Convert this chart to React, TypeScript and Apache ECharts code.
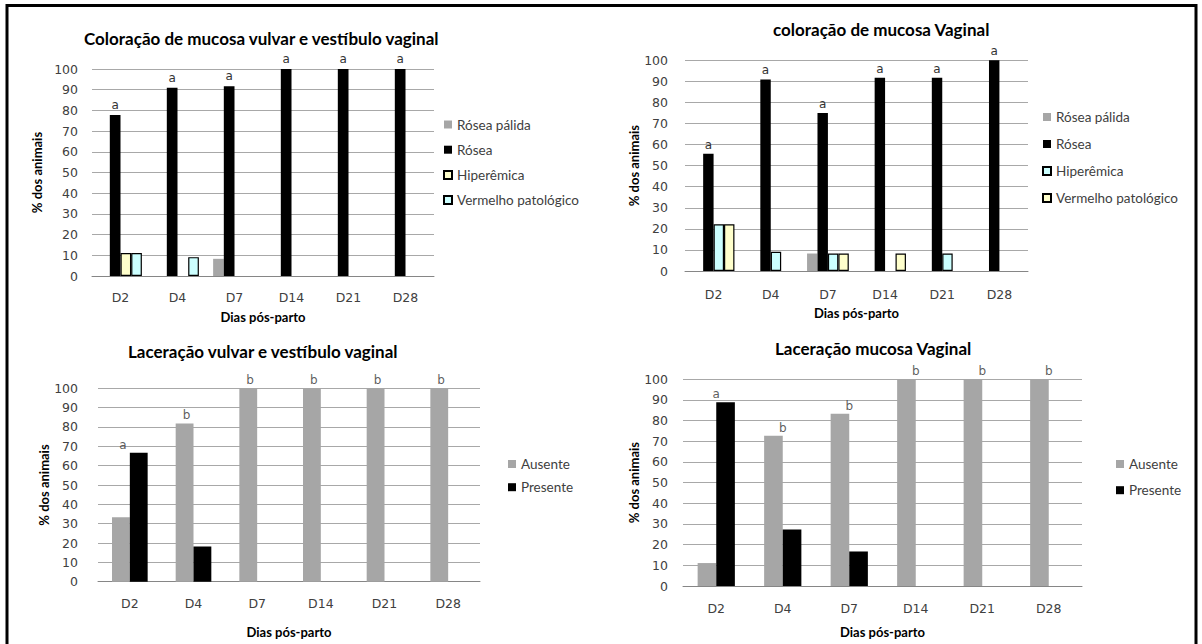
import React, { useEffect, useRef } from 'react';
import * as echarts from 'echarts';

// ---------- data ----------
const categories = ['D2', 'D4', 'D7', 'D14', 'D21', 'D28'];
const yTicksMax = 100;
const yTicksStep = 10;

// Panel 1 — Coloração de mucosa vulvar e vestíbulo vaginal
const vulvarRoseaPalida = [0, 0, 8.3, 0, 0, 0];
const vulvarRosea = [77.8, 90.9, 91.7, 100, 100, 100];
const vulvarHiperemica = [11.1, 0, 0, 0, 0, 0];
const vulvarVermelho = [11.1, 9.1, 0, 0, 0, 0];
const vulvarLetters = ['a', 'a', 'a', 'a', 'a', 'a'];

// Panel 2 — coloração de mucosa Vaginal
const vaginalRoseaPalida = [0, 0, 8.3, 0, 0, 0];
const vaginalRosea = [55.6, 90.9, 75, 91.7, 91.7, 100];
const vaginalHiperemica = [22.2, 9.1, 8.3, 0, 8.3, 0];
const vaginalVermelho = [22.2, 0, 8.3, 8.3, 0, 0];
const vaginalLetters = ['a', 'a', 'a', 'a', 'a', 'a'];

// Panel 3 — Laceração vulvar e vestíbulo vaginal
const lacVulvarAusente = [33.3, 81.8, 100, 100, 100, 100];
const lacVulvarPresente = [66.7, 18.2, 0, 0, 0, 0];
const lacVulvarLetters = ['a', 'b', 'b', 'b', 'b', 'b'];

// Panel 4 — Laceração mucosa Vaginal
const lacVaginalAusente = [11.1, 72.7, 83.3, 100, 100, 100];
const lacVaginalPresente = [88.9, 27.3, 16.7, 0, 0, 0];
const lacVaginalLetters = ['a', 'b', 'b', 'b', 'b', 'b'];

const titles = [
  'Coloração de mucosa vulvar e vestíbulo vaginal',
  'coloração de mucosa Vaginal',
  'Laceração vulvar e vestíbulo vaginal',
  'Laceração mucosa Vaginal',
];
const xName = 'Dias pós-parto';
const yName = '% dos animais';

// ---------- styles ----------
const GRAY = '#a6a6a6';
const BLACK = '#000000';
const YELLOW = '#ffffcc';
const CYAN = '#ccffff';
const TXT = '#404040';
const SEP = '::';

const nz = (arr: number[]) => arr.map((v) => (v === 0 ? null : v));

export default function App() {
  const ref = useRef<HTMLDivElement>(null);

  useEffect(() => {
    const chart = echarts.init(ref.current!, null, { renderer: 'svg' });

    const grids = [
      { left: 92, top: 69, width: 342, height: 207 },
      { left: 685, top: 60.3, width: 343, height: 210.7 },
      { left: 98, top: 388.3, width: 382, height: 193.4 },
      { left: 683, top: 379.3, width: 399, height: 206.7 },
    ];
    const xLabelMargin = [15, 17, 15, 16];
    const xNameGap = [34, 35, 44, 39];
    const yLabelMargin = [14, 17, 20, 15];
    const yNameGap = [49, 44, 47, 42];

    const xAxis = grids.map((_, i) => ({
      type: 'category',
      gridIndex: i,
      data: categories,
      axisLine: { show: true, lineStyle: { color: '#868686', width: 1 } },
      axisTick: { show: false },
      axisLabel: { margin: xLabelMargin[i], fontFamily: 'DejaVu Sans', fontSize: 12.5, color: TXT },
      name: xName,
      nameLocation: 'middle',
      nameGap: xNameGap[i],
      nameTextStyle: { fontFamily: 'Lato', fontWeight: 'bold', fontSize: 13, color: '#000' },
    }));

    const yAxis = grids.map((_, i) => ({
      type: 'value',
      gridIndex: i,
      min: 0,
      max: yTicksMax,
      interval: yTicksStep,
      axisLine: { show: false },
      axisTick: { show: false },
      splitLine: { show: true, lineStyle: { color: '#a8a8a8', width: 1.2 } },
      axisLabel: { margin: yLabelMargin[i], fontFamily: 'DejaVu Sans', fontSize: 12.5, color: TXT },
      name: yName,
      nameLocation: 'middle',
      nameRotate: 90,
      nameGap: yNameGap[i],
      nameTextStyle: { fontFamily: 'Lato', fontWeight: 'bold', fontSize: 13, color: '#000' },
    }));

    const letterLabel = (letters: string[], extra: any = {}) => ({
      show: true,
      position: 'top',
      distance: 3,
      fontFamily: 'DejaVu Sans',
      fontSize: 12,
      color: '#333333',
      formatter: (p: any) => letters[p.dataIndex],
      ...extra,
    });

    const bar = (name: string, data: number[], idx: number, color: string, border: boolean, gap: string, label?: any) => ({
      type: 'bar',
      name,
      xAxisIndex: idx,
      yAxisIndex: idx,
      data: nz(data),
      barGap: '0%',
      barCategoryGap: gap,
      itemStyle: border
        ? { color, borderColor: '#000', borderWidth: 1.2 }
        : { color },
      label: label || { show: false },
      emphasis: { disabled: true },
    });

    const maxOf = (a: number[], b: number[]) => a.map((v, i) => Math.max(v, b[i]));

    const letterScatter = (idx: number, values: number[], letters: string[], offsetX: number) => ({
      type: 'scatter',
      name: 'letras' + idx,
      xAxisIndex: idx,
      yAxisIndex: idx,
      data: values,
      symbolSize: 0,
      silent: true,
      itemStyle: { color: '#333333' },
      label: letterLabel(letters, { offset: [offsetX, 0], distance: 2 }),
    });

    const series = [
      bar('Rósea pálida' + SEP + '1', vulvarRoseaPalida, 0, GRAY, false, '25%'),
      bar('Rósea' + SEP + '1', vulvarRosea, 0, BLACK, false, '25%', letterLabel(vulvarLetters, { distance: 4 })),
      bar('Hiperêmica' + SEP + '1', vulvarHiperemica, 0, YELLOW, true, '25%'),
      bar('Vermelho patológico' + SEP + '1', vulvarVermelho, 0, CYAN, true, '25%'),

      bar('Rósea pálida' + SEP + '2', vaginalRoseaPalida, 1, GRAY, false, '27%'),
      bar('Rósea' + SEP + '2', vaginalRosea, 1, BLACK, false, '27%', letterLabel(vaginalLetters, { distance: 3 })),
      bar('Hiperêmica' + SEP + '2', vaginalHiperemica, 1, CYAN, true, '27%'),
      bar('Vermelho patológico' + SEP + '2', vaginalVermelho, 1, YELLOW, true, '27%'),

      bar('Ausente' + SEP + '3', lacVulvarAusente, 2, GRAY, false, '44%'),
      bar('Presente' + SEP + '3', lacVulvarPresente, 2, BLACK, false, '44%'),
      letterScatter(2, maxOf(lacVulvarAusente, lacVulvarPresente), lacVulvarLetters, -7),

      bar('Ausente' + SEP + '4', lacVaginalAusente, 3, GRAY, false, '44%'),
      bar('Presente' + SEP + '4', lacVaginalPresente, 3, BLACK, false, '44%'),
      letterScatter(3, maxOf(lacVaginalAusente, lacVaginalPresente), lacVaginalLetters, 0),
    ];

    const legendBase = {
      orient: 'vertical',
      icon: 'rect',
      itemWidth: 8,
      itemHeight: 8,
      padding: 0,
      selectedMode: false,
      textStyle: { fontFamily: 'Lato', fontSize: 13.5, color: TXT },
      formatter: (name: string) => name.split(SEP)[0],
    };
    const legendNames = (suffix: string, names: string[]) => names.map((n) => n + SEP + suffix);

    const legend = [
      { ...legendBase, left: 443, top: 117.5, itemGap: 11.2,
        data: legendNames('1', ['Rósea pálida', 'Rósea', 'Hiperêmica', 'Vermelho patológico']) },
      { ...legendBase, left: 1042, top: 110, itemGap: 13,
        data: legendNames('2', ['Rósea pálida', 'Rósea', 'Hiperêmica', 'Vermelho patológico']) },
      { ...legendBase, left: 508, top: 457, itemGap: 9.2,
        data: legendNames('3', ['Ausente', 'Presente']) },
      { ...legendBase, left: 1116, top: 457, itemGap: 12.2,
        data: legendNames('4', ['Ausente', 'Presente']) },
    ];

    const titleLefts = [84, 773, 128, 775];
    const titleTops = [30, 21, 343, 340];
    const title = titles.map((t, i) => ({
      text: t,
      left: titleLefts[i],
      top: titleTops[i],
      padding: 0,
      textStyle: { fontFamily: 'Lato', fontWeight: 'bold', fontSize: 17, color: '#000' },
    }));

    chart.setOption({
      animation: false,
      backgroundColor: '#ffffff',
      title,
      legend,
      grid: grids,
      xAxis,
      yAxis,
      series,
      graphic: [
        {
          type: 'rect',
          shape: { x: 7, y: 5.5, width: 1189, height: 700 },
          style: { fill: 'none', stroke: '#000', lineWidth: 3 },
          silent: true,
          z: 100,
        },
      ],
    });

    return () => chart.dispose();
  }, []);

  return (
    <div
      ref={ref}
      style={{ position: 'absolute', left: 0, top: 0, width: 1202, height: 644, background: '#fff' }}
    />
  );
}
